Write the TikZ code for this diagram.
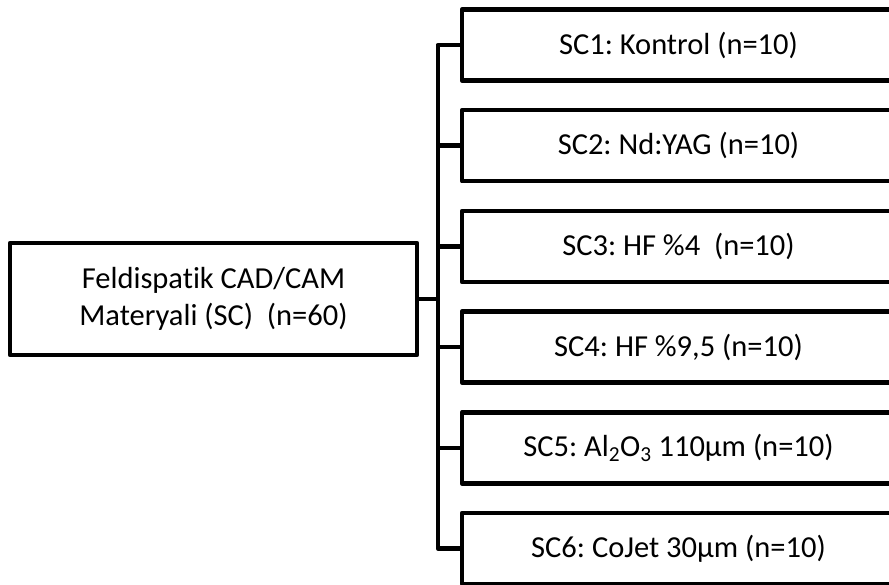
\documentclass[tikz,border=0pt]{standalone}
\usepackage{fontspec}
\setmainfont[Ligatures=NoCommon]{Carlito}
\frenchspacing
\begin{document}
\begin{tikzpicture}[x=1pt,y=-1pt,
  box/.style={draw=black,line width=4.5pt,line join=round,fill=white,inner sep=0pt,align=center,
    font=\fontsize{30.5}{36.6}\selectfont},
  subbox/.style={box,minimum width=433pt,minimum height=71pt},
  conn/.style={draw=black,line width=4.5pt,line join=round,line cap=butt}]
\useasboundingbox (0,0) rectangle (889,585);
\clip (0,0) rectangle (889,585);
\node[box,minimum width=407pt,minimum height=112pt] (lb) at (213.5,299) {Feldispatik CAD/CAM\\Materyali (SC)\ \ (n=60)};
\node[subbox] (sc1) at (678.5,45) {SC1: Kontrol (n=10)};
\node[subbox] (sc2) at (678.5,145.7) {SC2: Nd:YAG (n=10)};
\node[subbox] (sc3) at (678.5,246.4) {SC3: HF \%4\ \ (n=10)};
\node[subbox] (sc4) at (678.5,347.1) {SC4: HF \%9,5 (n=10)};
\node[subbox] (sc5) at (678.5,447.8) {SC5: Al\textsubscript{2}O\textsubscript{3} 110µm (n=10)};
\node[subbox] (sc6) at (678.5,548.5) {SC6: CoJet 30µm (n=10)};
\draw[conn] (sc1.west) -- ++(-22,0) coordinate (bt) |- (sc6.west);
\foreach \i in {2,3,4,5} {\draw[conn] (sc\i.west) -- (sc\i.west -| bt);}
\draw[conn] (lb.east) -- (lb.east -| bt);
\end{tikzpicture}
\end{document}
